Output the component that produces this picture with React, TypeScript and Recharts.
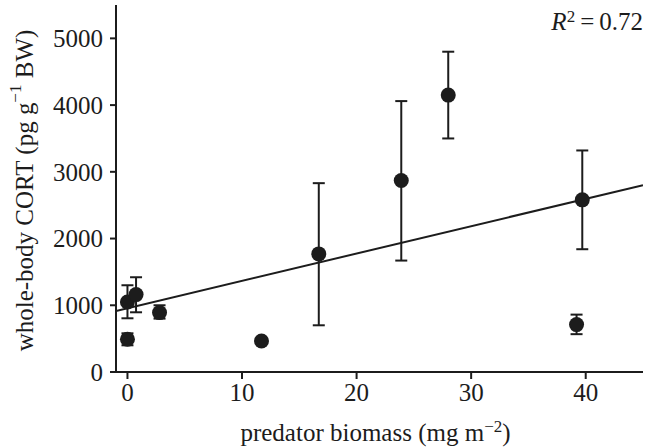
import React from 'react';
import {
  ComposedChart, Scatter, XAxis, YAxis, ErrorBar, Label
} from 'recharts';

// values
const biomass = [0, 0, 0.75, 2.8, 11.7, 16.7, 23.9, 28.0, 39.7, 39.2];
const cort = [1050, 490, 1160, 890, 465, 1770, 2870, 4150, 2580, 710];
const cortLow = [805, 400, 895, 800, 430, 700, 1670, 3500, 1840, 567];
const cortHigh = [1300, 580, 1420, 1000, 500, 2830, 4060, 4800, 3320, 860];

const xTicks = [0, 10, 20, 30, 40];
const yTicks = [0, 1000, 2000, 3000, 4000, 5000];

// regression line end points
const fitX = [-1, 45];
const fitY = [915, 2800];

const INK = '#1c1c1c';
const FONT = '"Liberation Serif", "DejaVu Serif", serif';

const points = biomass.map((x, i) => ({
  x,
  y: cort[i],
  err: [cort[i] - cortLow[i], cortHigh[i] - cort[i]],
}));

const fitLine = fitX.map((x, i) => ({ x, y: fitY[i] }));

const Dot = (props: any) => (
  <circle cx={props.cx} cy={props.cy} r={7.5} fill={INK} />
);

const YTitle = (props: any) => {
  const vb = props.viewBox;
  const cx = 24;
  const cy = vb.y + vb.height / 2 + 2;
  return (
    <text
      x={cx} y={cy}
      transform={`rotate(-90, ${cx}, ${cy})`}
      textAnchor="middle"
      dominantBaseline="central"
      fontFamily={FONT}
      fontSize={25}
      fill={INK}
    >
      whole-body CORT (pg g<tspan dy={-9} fontSize={17}>−1</tspan>
      <tspan dy={9}> BW)</tspan>
    </text>
  );
};

const XTitle = (props: any) => {
  const vb = props.viewBox;
  return (
    <text
      x={vb.x + vb.width / 2 - 4}
      y={441}
      textAnchor="middle"
      fontFamily={FONT}
      fontSize={25}
      fill={INK}
    >
      predator biomass (mg m<tspan dy={-9} fontSize={17}>−2</tspan>
      <tspan dy={9}>)</tspan>
    </text>
  );
};

const App: React.FC = () => (
  <div style={{ position: 'absolute', left: 0, top: 0, width: 646, height: 447, background: '#fff' }}>
    <ComposedChart
      width={646}
      height={447}
      margin={{ top: 5, right: 3, left: 0, bottom: 0 }}
    >
      <XAxis
        type="number"
        dataKey="x"
        domain={[-1, 45]}
        ticks={xTicks}
        allowDataOverflow
        height={75}
        tick={{ fill: INK, fontSize: 25, fontFamily: FONT }}
        tickSize={7}
        tickMargin={4}
        stroke={INK}
        axisLine={{ stroke: INK, strokeWidth: 2 }}
        tickLine={{ stroke: INK, strokeWidth: 2 }}
      >
        <Label content={<XTitle />} />
      </XAxis>
      <YAxis
        type="number"
        dataKey="y"
        domain={[0, 5500]}
        ticks={yTicks}
        allowDataOverflow
        width={116}
        tick={{ fill: INK, fontSize: 25, fontFamily: FONT }}
        tickSize={6}
        tickMargin={7}
        stroke={INK}
        axisLine={{ stroke: INK, strokeWidth: 2 }}
        tickLine={{ stroke: INK, strokeWidth: 2 }}
      >
        <Label content={<YTitle />} />
      </YAxis>
      <Scatter
        data={fitLine}
        line={{ stroke: INK, strokeWidth: 2 }}
        shape={() => null}
        isAnimationActive={false}
      />
      <Scatter data={points} shape={<Dot />} isAnimationActive={false}>
        <ErrorBar dataKey="err" direction="y" width={6} stroke={INK} strokeWidth={2} />
      </Scatter>
    </ComposedChart>
    <div
      style={{
        position: 'absolute', right: 3, top: 8,
        fontFamily: FONT, fontSize: 25, color: INK, lineHeight: 1,
      }}
    >
      <i>R</i><sup style={{ fontSize: 17, verticalAlign: 8 }}>2</sup>{'\u2009=\u2009'}0.72
    </div>
  </div>
);

export default App;
